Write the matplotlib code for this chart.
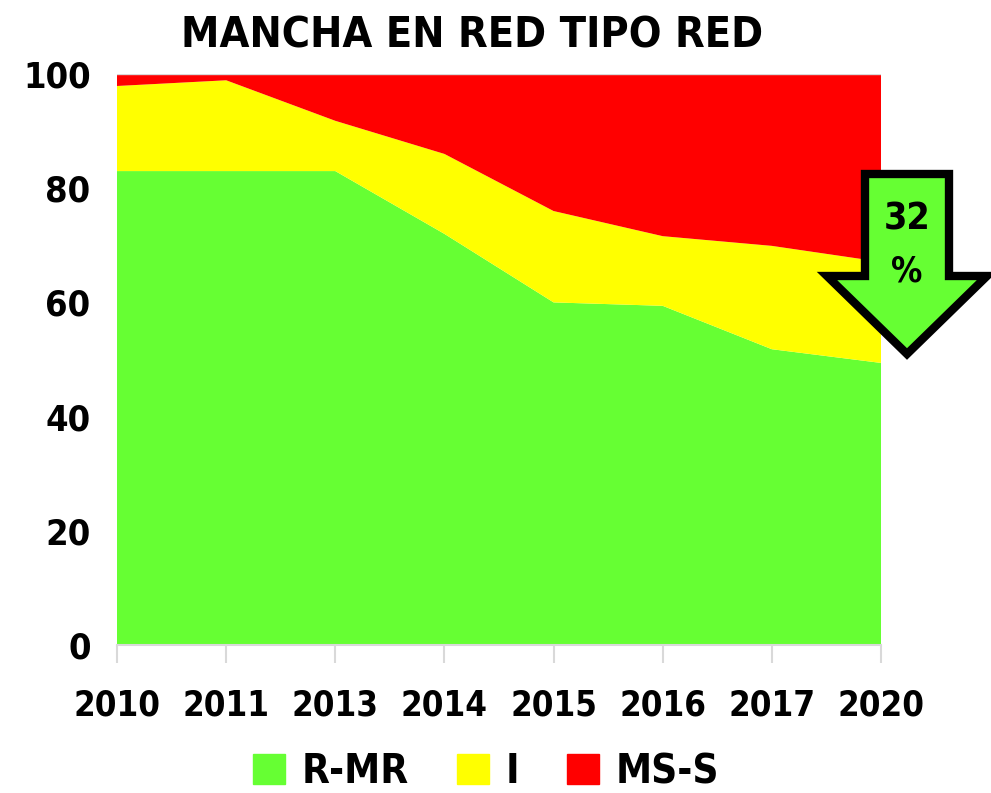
import matplotlib.pyplot as plt
from matplotlib.patches import Polygon, Rectangle
import numpy as np

years = ['2010', '2011', '2013', '2014', '2015', '2016', '2017', '2020']
r_mr = [83.0, 83.0, 83.0, 72.0, 60.0, 59.4, 51.8, 49.4]
inter = [14.9, 15.9, 8.8, 14.0, 16.0, 12.2, 18.1, 17.7]
ms_s = [2.1, 1.1, 8.2, 14.0, 24.0, 28.4, 30.1, 32.9]
labels = ['R-MR', 'I', 'MS-S']
colors = ['#66FF33', '#FFFF00', '#FF0000']

plt.rcParams['font.family'] = ['DejaVu Sans']
plt.rcParams['font.stretch'] = 'condensed'
plt.rcParams['font.weight'] = 'bold'

W, H = 991, 793
fig = plt.figure(figsize=(W / 100, H / 100), dpi=100)
ax = fig.add_axes([117 / W, 1 - 645 / H, (881 - 117) / W, (645 - 74) / H])

x = np.arange(len(years))
ax.stackplot(x, r_mr, inter, ms_s, colors=colors, labels=labels, linewidth=0)
ax.set_xlim(0, len(years) - 1)
ax.set_ylim(0, 100)
ax.set_xticks(x)
ax.set_xticklabels(years)
ax.set_yticks([0, 20, 40, 60, 80, 100])
ax.tick_params(axis='x', length=13, color='#d9d9d9', width=1.5, pad=18, labelsize=25)
ax.tick_params(axis='y', length=0, pad=19, labelsize=26)
for s in ['left', 'right', 'top']:
    ax.spines[s].set_visible(False)
ax.spines['bottom'].set_color('#d9d9d9')
ax.spines['bottom'].set_linewidth(1.5)
ax.axhline(100, color='#d9d9d9', linewidth=1)

fig.text(472 / W, 1 - 35 / H, 'MANCHA EN RED TIPO RED', ha='center', va='center',
         fontsize=31, fontweight='bold')

# legend
handles = [Rectangle((0, 0), 1, 1, color=c) for c in colors]
fig.legend(handles, labels, loc='center', bbox_to_anchor=(486 / W, 1 - 772 / H),
           ncol=3, frameon=False, fontsize=29, handlelength=0.8, handleheight=0.8,
           handletextpad=0.4, columnspacing=1.2, borderpad=0.1)

# arrow annotation
pts = [(865, 174), (949, 174), (949, 276), (987, 276), (907, 354),
       (827, 276), (865, 276)]
arrow = Polygon([(px / W, 1 - py / H) for px, py in pts], closed=True,
                transform=fig.transFigure, facecolor='#66FF33', edgecolor='black',
                linewidth=6, joinstyle='miter', clip_on=False)
fig.patches.append(arrow)
fig.text(907 / W, 1 - 220 / H, '32', ha='center', va='center', fontsize=27, fontweight='bold')
fig.text(907 / W, 1 - 272 / H, '%', ha='center', va='center', fontsize=25, fontweight='bold')

fig.savefig('out.png', dpi=100)
